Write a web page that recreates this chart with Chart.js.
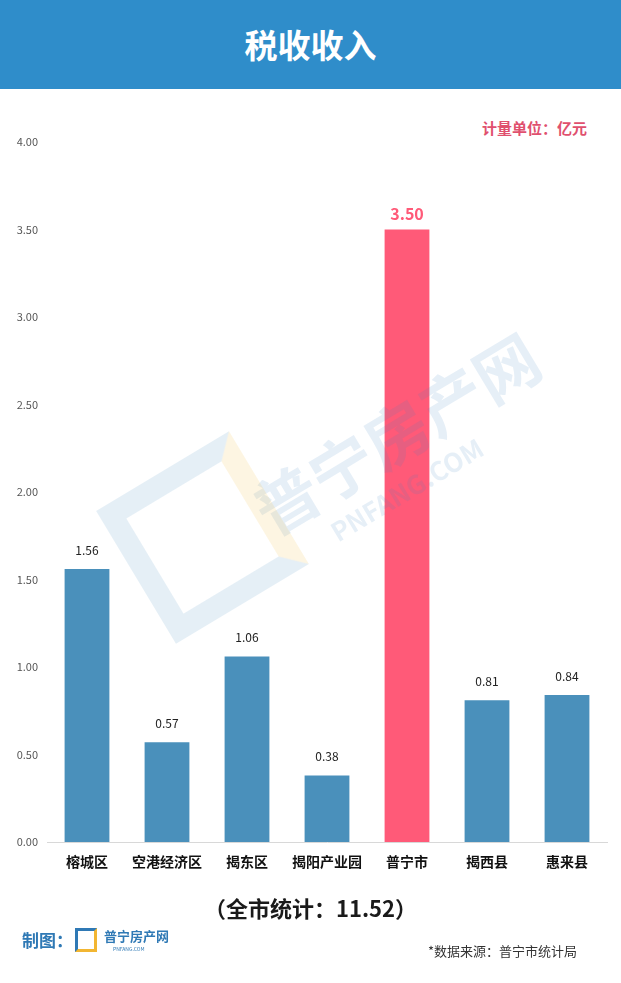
<!DOCTYPE html>
<html lang="zh-CN">
<head>
  <meta charset="UTF-8" />
  <title>税收收入</title>
  <script src="https://cdn.jsdelivr.net/npm/chart.js"></script>
  <style>
    html, body { margin: 0; padding: 0; background: #fff; }
    body { width: 621px; height: 983px; position: relative; overflow: hidden;
           font-family: "Noto Sans CJK SC", "Noto Sans", sans-serif; }
    .header { position: absolute; left: 0; top: 0; width: 621px; height: 89px; background: #2f8dca;
              color: #fff; font-size: 33px; font-weight: bold; text-align: center; line-height: 89px; }
    .unit { position: absolute; right: 34px; top: 117px; color: #e0506e; font-size: 15px; font-weight: bold; }
    #wrap { position: absolute; left: 0; top: 0; width: 621px; height: 983px; }
    .total { position: absolute; left: 0; width: 621px; top: 891px; text-align: center;
             font-size: 22px; font-weight: bold; color: #1a1a1a; }
    .maker { position: absolute; left: 22px; top: 927px; color: #2f79b5; font-size: 17px; font-weight: bold; }
    .logo { position: absolute; left: 75px; top: 928px; width: 22px; height: 24px;
            border: 3px solid #2f79b5; border-right-color: #f2b632; border-bottom-color: #f2b632; box-sizing: border-box; }
    .logotext { position: absolute; left: 104px; top: 926px; color: #2f79b5; font-size: 13px; font-weight: bold; }
    .logosub { position: absolute; left: 113px; top: 945px; color: #2f79b5; font-size: 5px; }
    .source { position: absolute; left: 428px; top: 941px; color: #333; font-size: 13px; }
    .wm { position: absolute; color: rgba(60,130,190,0.13); font-weight: bold; transform: rotate(-31deg);
          white-space: nowrap; pointer-events: none; }
  </style>
</head>
<body>
  <div class="header">税收收入</div>
  <div class="unit">计量单位：亿元</div>
  <div id="wrap"><canvas id="taxChart"></canvas></div>
  <div class="wm" style="left:235px; top:385px; font-size:64px;">普宁房产网</div>
  <div class="wm" style="left:320px; top:470px; font-size:26px;">PNFANG.COM</div>
  <div class="wm" style="left:125px; top:460px; width:155px; height:155px; border:22px solid rgba(60,130,190,0.13); border-right-color:rgba(240,190,60,0.15); box-sizing:border-box;"></div>
  <div class="total">（全市统计：11.52）</div>
  <div class="maker">制图：</div>
  <div class="logo"></div>
  <div class="logotext">普宁房产网</div>
  <div class="logosub">PNFANG.COM</div>
  <div class="source">*数据来源：普宁市统计局</div>

  <script>
    const regions = ['榕城区', '空港经济区', '揭东区', '揭阳产业园', '普宁市', '揭西县', '惠来县'];
    const taxValues = [1.56, 0.57, 1.06, 0.38, 3.50, 0.81, 0.84];
    const yTicks = [0, 0.5, 1, 1.5, 2, 2.5, 3, 3.5, 4];
    const highlight = '普宁市';

    const blue = '#4a90bb';
    const pink = '#ff5a78';
    const cjk = '"Noto Sans CJK SC", "Noto Sans", sans-serif';

    // 柱顶数值
    const valueLabels = {
      id: 'valueLabels',
      afterDatasetsDraw(chart) {
        const ctx = chart.ctx;
        const meta = chart.getDatasetMeta(0);
        ctx.save();
        ctx.textAlign = 'center';
        ctx.textBaseline = 'bottom';
        meta.data.forEach((bar, i) => {
          const isHi = regions[i] === highlight;
          ctx.fillStyle = isHi ? pink : '#222';
          ctx.font = isHi ? 'bold 16px ' + cjk : '12px ' + cjk;
          ctx.fillText(taxValues[i].toFixed(2), bar.x, bar.y - (isHi ? 8 : 13));
        });
        ctx.restore();
      }
    };

    new Chart(document.getElementById('taxChart'), {
      type: 'bar',
      data: {
        labels: regions,
        datasets: [{
          data: taxValues,
          backgroundColor: regions.map(r => r === highlight ? pink : blue),
          barPercentage: 0.56,
          categoryPercentage: 1
        }]
      },
      options: {
        responsive: true,
        maintainAspectRatio: false,
        animation: false,
        layout: { padding: { top: 142, left: 0, right: 14, bottom: 101 } },
        plugins: { legend: { display: false }, tooltip: { enabled: false } },
        scales: {
          x: {
            grid: { display: false, drawTicks: false },
            border: { display: true, color: '#d8d8d8', width: 1 },
            ticks: { padding: 11, color: '#111', font: { family: cjk, size: 14, weight: 'bold' } },
            afterFit: s => { s.height = 40; }
          },
          y: {
            min: 0, max: 4,
            afterBuildTicks: s => { s.ticks = yTicks.map(v => ({ value: v })); },
            grid: { display: false, drawTicks: false },
            border: { display: false },
            ticks: { padding: 9, color: '#555', font: { family: cjk, size: 11 },
                     callback: v => Number(v).toFixed(2) },
            afterFit: s => { s.width = 47; }
          }
        }
      },
      plugins: [valueLabels]
    });
  </script>
</body>
</html>
